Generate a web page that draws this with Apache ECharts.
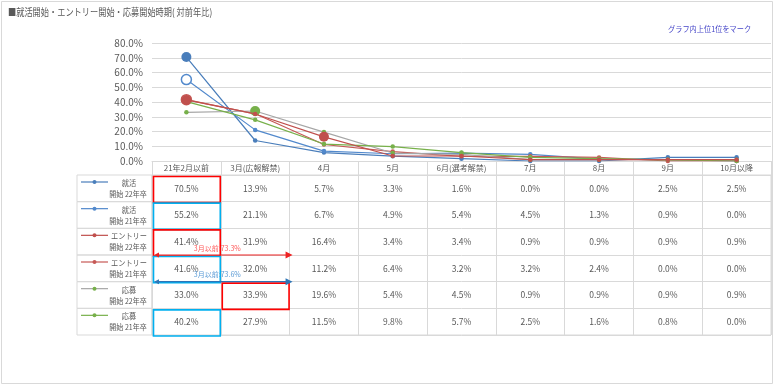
<!DOCTYPE html>
<html><head><meta charset="utf-8">
<script src="https://cdn.jsdelivr.net/npm/echarts@6/dist/echarts.min.js"></script>
<style>html,body{margin:0;padding:0;background:#fff}#c{width:775px;height:385px}</style>
</head><body><div id="c"></div>
<script>
const categories = ['21年2月以前','3月(広報解禁)','4月','5月','6月(選考解禁)','7月','8月','9月','10月以降'];
const yTicks = [0,10,20,30,40,50,60,70,80];
const seriesNames = ['就活開始 22年卒','就活開始 21年卒','エントリー開始 22年卒','エントリー開始 21年卒','応募開始 22年卒','応募開始 21年卒'];
const rowLine1 = ['就活','就活','エントリー','エントリー','応募','応募'];
const rowLine2 = ['開始 22年卒','開始 21年卒','開始 22年卒','開始 21年卒','開始 22年卒','開始 21年卒'];
const shukatsu22 = [70.5,13.9,5.7,3.3,1.6,0.0,0.0,2.5,2.5];
const shukatsu21 = [55.2,21.1,6.7,4.9,5.4,4.5,1.3,0.9,0.0];
const entry22    = [41.4,31.9,16.4,3.4,3.4,0.9,0.9,0.9,0.9];
const entry21    = [41.6,32.0,11.2,6.4,3.2,3.2,2.4,0.0,0.0];
const oubo22     = [33.0,33.9,19.6,5.4,4.5,0.9,0.9,0.9,0.9];
const oubo21     = [40.2,27.9,11.5,9.8,5.7,2.5,1.6,0.8,0.0];
const allValues = [shukatsu22, shukatsu21, entry22, entry21, oubo22, oubo21];
// big markers: [seriesIndex, categoryIndex, filled]
const bigMarks = [[0,0,true],[1,0,false],[3,0,false],[2,0,true],[2,2,true],[4,1,true]];
// highlighted table cells: [row, col, kind]
const boxes = [[0,0,'r'],[1,0,'c'],[2,0,'r'],[3,0,'c'],[4,1,'r'],[5,0,'c']];
// arrows: [seriesIndex (row), fromCol, toCol]
const arrows = [[2,0,1],[3,0,1]];

const lineColors = ['#4a7ebb','#5289cc','#c0504d','#c65955','#a6a6a6','#77b04a'];
const markerColors = ['#4a7ebb','#5289cc','#c0504d','#c65955','#77b04a','#77b04a'];
const FONT = '"Noto Sans CJK JP", sans-serif';
const GRID_L = 152, GRID_R = 4;

const chart = echarts.init(document.getElementById('c'));

const lineSeries = allValues.map((vals, si) => ({
  type: 'line', name: seriesNames[si], xAxisIndex: 0, yAxisIndex: 0,
  symbol: 'circle', symbolSize: 4.5, z: 3 + (si === 2 ? 6 : si),
  lineStyle: { color: lineColors[si], width: 1.2 },
  itemStyle: { color: markerColors[si] },
  emphasis: { disabled: true },
  data: vals.map((v, ci) => {
    const bm = bigMarks.find(b => b[0] === si && b[1] === ci);
    if (!bm) return v;
    return { value: v, symbolSize: 10,
      itemStyle: bm[2] ? { color: markerColors[si] } : { color: '#fff', borderColor: markerColors[si], borderWidth: 1.5 } };
  })
}));

// table cell texts
const cellData = [];
allValues.forEach((vals, r) => vals.forEach((v, c) => cellData.push([c, r, v])));

const cellSeries = {
  type: 'custom', xAxisIndex: 1, yAxisIndex: 1, silent: true,
  data: cellData,
  renderItem: (params, api) => {
    const p = api.coord([api.value(0), api.value(1)]);
    return { type: 'text', style: { text: api.value(2).toFixed(1) + '%', x: p[0], y: p[1], align: 'center', verticalAlign: 'middle',
      fill: '#595959', font: '8.5px ' + FONT } };
  }
};

const headerSeries = {
  type: 'custom', xAxisIndex: 1, yAxisIndex: 1, silent: true, clip: false,
  data: seriesNames.map((n, r) => [0, r]),
  renderItem: (params, api) => {
    const r = api.value(1);
    const p = api.coord([0, r]);
    const s = api.size([1, 1]);
    const right = p[0] - s[0] / 2;
    const left = right - 75;
    const top = p[1] - s[1] / 2;
    const c1 = lineColors[r], c2 = markerColors[r];
    return { type: 'group', children: [
      { type: 'rect', shape: { x: left, y: top, width: 75, height: s[1] }, style: { fill: 'none', stroke: '#d9d9d9', lineWidth: 1 } },
      { type: 'line', shape: { x1: left + 4, y1: top + 7, x2: left + 31, y2: top + 7 }, style: { stroke: c1, lineWidth: 1.2 } },
      { type: 'circle', shape: { cx: left + 17.5, cy: top + 7, r: 2 }, style: { fill: c2 } },
      { type: 'text', x: left + 52, y: top + 8, scaleX: 0.9, style: { text: rowLine1[r], x: 0, y: 0, align: 'center', verticalAlign: 'middle', fill: '#595959', font: '8px ' + FONT } },
      { type: 'text', x: left + 51, y: top + 19, scaleX: 0.88, style: { text: rowLine2[r], x: 0, y: 0, align: 'center', verticalAlign: 'middle', fill: '#595959', font: '8px ' + FONT } }
    ] };
  }
};

const boxSeries = {
  type: 'custom', xAxisIndex: 1, yAxisIndex: 1, silent: true, clip: false, z: 10,
  data: boxes.map(b => [b[1], b[0], b[2] === 'r' ? 0 : 1]),
  renderItem: (params, api) => {
    const p = api.coord([api.value(0), api.value(1)]);
    const s = api.size([1, 1]);
    const col = api.value(2) === 0 ? '#ff0000' : '#00b0f0';
    return { type: 'rect', shape: { x: p[0] - s[0] / 2 + 1.5, y: p[1] - s[1] / 2 + 1.5, width: s[0] - 2, height: s[1] - 0.5 },
      style: { fill: 'none', stroke: col, lineWidth: 1.6 } };
  }
};

const arrowSeries = {
  type: 'custom', xAxisIndex: 1, yAxisIndex: 1, silent: true, clip: false, z: 11,
  data: arrows.map(a => [a[1], a[2], a[0], allValues[a[0]][a[1]] + allValues[a[0]][a[2]]]),
  renderItem: (params, api) => {
    const r = api.value(2);
    const p0 = api.coord([api.value(0), r]);
    const p1 = api.coord([api.value(1), r]);
    const s = api.size([1, 1]);
    const y = p0[1] + s[1] / 2;
    const x0 = p0[0] - s[0] / 2 + 2, x1 = p1[0] + s[0] / 2 + 3;
    const isRed = params.dataIndex === 0;
    const lc = isRed ? '#ee2222' : '#2e75b6';
    const tc = isRed ? '#ff5a5a' : '#5b9bd5';
    return { type: 'group', children: [
      { type: 'line', shape: { x1: x0 + 3, y1: y, x2: x1 - 5, y2: y }, style: { stroke: lc, lineWidth: 1.2 } },
      { type: 'polygon', shape: { points: [[x0, y], [x0 + 5, y - 2.5], [x0 + 5, y + 2.5]] }, style: { fill: lc } },
      { type: 'polygon', shape: { points: [[x1, y], [x1 - 7, y - 3.5], [x1 - 7, y + 3.5]] }, style: { fill: lc } },
      { type: 'text', style: { text: '3月以前:' + api.value(3).toFixed(1) + '%', x: (x0 + x1) / 2 - 6, y: y - 7, align: 'center', verticalAlign: 'middle', fill: tc, font: '7px ' + FONT } }
    ] };
  }
};

chart.setOption({
  animation: false,
  backgroundColor: '#fff',
  textStyle: { fontFamily: FONT },
  graphic: [
    { type: 'rect', shape: { x: 1.5, y: 1.5, width: 771, height: 382 }, style: { fill: 'none', stroke: '#d9d9d9', lineWidth: 1 }, silent: true },
    { type: 'text', x: 8, y: 12, scaleX: 0.82, style: { text: '■就活開始・エントリー開始・応募開始時期( 対前年比)', fill: '#595959', font: '10px ' + FONT, verticalAlign: 'middle' } },
    { type: 'text', x: 668, y: 29, scaleX: 0.9, style: { text: 'グラフ内上位1位をマーク', fill: '#4646c8', font: '8px ' + FONT, verticalAlign: 'middle' } }
  ],
  grid: [
    { left: GRID_L, right: GRID_R, top: 43, height: 118 },
    { left: GRID_L, right: GRID_R, top: 175, height: 160, show: true, borderColor: '#d9d9d9', borderWidth: 1 }
  ],
  xAxis: [
    { gridIndex: 0, type: 'category', data: categories, boundaryGap: true,
      axisLine: { show: true, lineStyle: { color: '#d9d9d9' } },
      axisTick: { show: true, length: 14, interval: 0, lineStyle: { color: '#d9d9d9' } },
      axisLabel: { interval: 0, margin: 3, color: '#595959', fontSize: 8, fontFamily: FONT } },
    { gridIndex: 1, type: 'category', data: categories, boundaryGap: true,
      axisLine: { show: false }, axisTick: { show: false }, axisLabel: { show: false },
      splitLine: { show: true, interval: 0, lineStyle: { color: '#d9d9d9' } } }
  ],
  yAxis: [
    { gridIndex: 0, type: 'value', min: yTicks[0], max: yTicks[yTicks.length - 1], interval: 10,
      axisLine: { show: false }, axisTick: { show: false },
      axisLabel: { color: '#595959', fontSize: 10, margin: 9, fontFamily: FONT, formatter: v => v.toFixed(1) + '%' },
      splitLine: { lineStyle: { color: '#d9d9d9' } } },
    { gridIndex: 1, type: 'category', data: seriesNames, inverse: true, boundaryGap: true,
      axisLine: { show: false }, axisTick: { show: false }, axisLabel: { show: false },
      splitLine: { show: true, interval: 0, lineStyle: { color: '#d9d9d9' } } }
  ],
  series: [...lineSeries, cellSeries, headerSeries, boxSeries, arrowSeries]
});
</script></body></html>
